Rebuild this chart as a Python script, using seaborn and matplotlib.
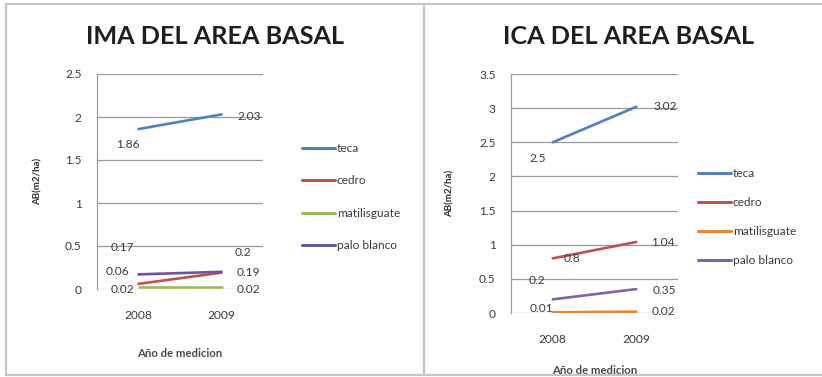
import matplotlib
matplotlib.use("Agg")
import matplotlib.pyplot as plt
from matplotlib.lines import Line2D
import seaborn as sns
import pandas as pd

# ---- data ----
years = ["2008", "2009"]
species = ["teca", "cedro", "matilisguate", "palo blanco"]

ima_teca = [1.86, 2.03]
ima_cedro = [0.06, 0.19]
ima_matilisguate = [0.02, 0.02]
ima_palo_blanco = [0.17, 0.20]

ica_teca = [2.5, 3.02]
ica_cedro = [0.8, 1.04]
ica_matilisguate = [0.01, 0.02]
ica_palo_blanco = [0.2, 0.35]

ima_ticks = [0, 0.5, 1, 1.5, 2, 2.5]
ica_ticks = [0, 0.5, 1, 1.5, 2, 2.5, 3, 3.5]

title_ima = "IMA DEL AREA BASAL"
title_ica = "ICA DEL AREA BASAL"
x_title = "Año de medicion"
y_title = "AB(m2/ha)"

# ---- styling ----
ima_colors = ["#4F81BD", "#C0504D", "#9BBB59", "#6A55A0"]
ica_colors = ["#4F81BD", "#C0504D", "#EC8533", "#8064A2"]

# per-series label offsets (pixels) for the 2008 and 2009 points
ima_offsets = {
    "teca": [(-11, -15), (28, -2)],
    "cedro": [(-21, 12), (27, 0)],
    "matilisguate": [(-16, -2), (27, -2)],
    "palo blanco": [(-16, 27), (21, 19)],
}
ica_offsets = {
    "teca": [(-15, -16), (29, 0)],
    "cedro": [(19, 0), (27, -1)],
    "matilisguate": [(-11, 4), (27, 0)],
    "palo blanco": [(-16, 19), (28, -1)],
}

sns.set_style("white")
plt.rcParams["font.family"] = ["Lato", "DejaVu Sans"]

TXT = "#3a3a3a"
GRID = "#9a9a9a"
FS = 8.6


def long_frame(series):
    rows = []
    for name, vals in zip(species, series):
        for yr, v in zip(years, vals):
            rows.append({"year": yr, "value": v, "species": name})
    return pd.DataFrame(rows)


fig = plt.figure(figsize=(8.22, 3.77), dpi=100)
W, H = 822, 377


def frac_rect(x0, y0, x1, y1):
    return [x0 / W, 1 - y1 / H, (x1 - x0) / W, (y1 - y0) / H]


def draw_panel(rect, series, colors, ticks, offsets, title, title_x,
               legend_x, legend_y, spacing, ylab_x, xlab_y):
    ax = fig.add_axes(frac_rect(*rect))
    df = long_frame(series)
    sns.lineplot(data=df, x="year", y="value", hue="species",
                 hue_order=species, palette=colors, linewidth=1.9,
                 ax=ax, legend=False, zorder=3)
    ax.set_xlim(-0.5, 1.5)
    ax.set_ylim(ticks[0], ticks[-1])
    ax.set_yticks(ticks)
    ax.set_yticklabels([f"{t:g}" for t in ticks])
    ax.yaxis.grid(True, color=GRID, linewidth=0.9)
    ax.set_axisbelow(True)
    for s in ["top", "right", "bottom"]:
        ax.spines[s].set_visible(False)
    ax.spines["left"].set_color(GRID)
    ax.spines["left"].set_linewidth(0.9)
    ax.tick_params(axis="y", which="major", length=5, width=0.9, color=GRID,
                   direction="out", pad=6, labelsize=FS, labelcolor=TXT)
    ax.tick_params(axis="x", which="major", length=0, pad=15, labelsize=FS,
                   labelcolor=TXT)
    ax.set_xticks([-0.5, 0.5, 1.5], minor=True)
    ax.tick_params(axis="x", which="minor", length=4, width=0.9, color=GRID,
                   direction="out")
    ax.set_xlabel(x_title, fontsize=8.2, fontweight="bold", color="#4a4a4a")
    ax.xaxis.set_label_coords(0.5, xlab_y)
    ax.set_ylabel(y_title, fontsize=7, fontweight="bold", color="#2a2a2a")
    ax.yaxis.set_label_coords(ylab_x, 0.5)

    for name, vals in zip(species, series):
        for i, v in enumerate(vals):
            dx, dy = offsets[name][i]
            ax.annotate(f"{v:g}", xy=(i, v), xytext=(dx, dy),
                        textcoords="offset pixels", ha="center",
                        va="center", fontsize=FS, color=TXT, zorder=5)

    handles = [Line2D([0], [0], color=c, linewidth=2.2) for c in colors]
    leg = fig.legend(handles, species, loc="center left",
                     bbox_to_anchor=(legend_x / W, 1 - legend_y / H),
                     frameon=False, fontsize=FS, handlelength=2.75,
                     handletextpad=0.15, labelspacing=spacing,
                     borderpad=0, borderaxespad=0)
    for t in leg.get_texts():
        t.set_color(TXT)

    fig.text(title_x / W, 1 - 37 / H, title, ha="center", va="center",
             fontsize=18.2, fontweight="bold", color="#1e1e1e")
    return ax


draw_panel((97, 74, 263, 289),
           [ima_teca, ima_cedro, ima_matilisguate, ima_palo_blanco],
           ima_colors, ima_ticks, ima_offsets, title_ima, 215,
           302, 197, 1.8, -0.331, -0.274)
draw_panel((511, 74, 678, 313),
           [ica_teca, ica_cedro, ica_matilisguate, ica_palo_blanco],
           ica_colors, ica_ticks, ica_offsets, title_ica, 629,
           698, 217, 1.5, -0.341, -0.218)

# panel frames
frame = dict(color="#c6c6c6", linewidth=1.6, transform=fig.transFigure)
fig.add_artist(Line2D([6 / W, 1], [1 - 4 / H, 1 - 4 / H], **frame))
fig.add_artist(Line2D([6 / W, 1], [1 - 375 / H, 1 - 375 / H], **frame))
fig.add_artist(Line2D([6 / W, 6 / W], [1 - 4 / H, 1 - 375 / H], **frame))
fig.add_artist(Line2D([424 / W, 424 / W], [1 - 4 / H, 1 - 375 / H], **frame))

fig.savefig("out.png", dpi=100, facecolor="white")
